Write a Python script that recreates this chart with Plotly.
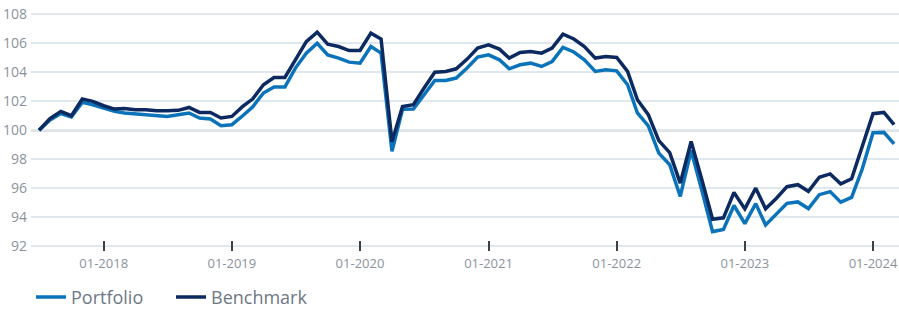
import pandas as pd
import plotly.graph_objects as go

months = pd.date_range("2017-07-01", "2024-03-01", freq="MS")

portfolio = [
    100.0, 100.7, 101.15, 100.92, 101.92, 101.76,
    101.53, 101.3, 101.19, 101.14, 101.07, 101.0, 100.95, 101.07, 101.19, 100.84, 100.77, 100.31,
    100.38, 101.0, 101.6, 102.57, 102.98, 102.98, 104.29, 105.32, 106.0, 105.2, 104.98, 104.7,
    104.63, 105.78, 105.32, 98.54, 101.45, 101.46, 102.45, 103.43, 103.43, 103.6, 104.29, 105.05,
    105.2, 104.86, 104.24, 104.52, 104.63, 104.4, 104.74, 105.72, 105.4, 104.86, 104.06, 104.17,
    104.1, 103.14, 101.19, 100.3, 98.42, 97.62, 95.43, 98.6, 95.8, 93.0, 93.15, 94.8,
    93.55, 94.93, 93.45, 94.25, 94.95, 95.05, 94.59, 95.55, 95.76, 95.03, 95.36, 97.3,
    99.83, 99.85, 99.05,
]

benchmark = [
    100.0, 100.8, 101.3, 101.0, 102.15, 101.99,
    101.69, 101.46, 101.5, 101.41, 101.41, 101.34, 101.34, 101.37, 101.57, 101.23, 101.23, 100.84,
    100.95, 101.64, 102.15, 103.14, 103.64, 103.64, 104.86, 106.12, 106.77, 105.94, 105.78, 105.5,
    105.5, 106.7, 106.29, 99.2, 101.64, 101.76, 102.9, 104.0, 104.06, 104.24, 104.91, 105.67,
    105.9, 105.6, 104.98, 105.37, 105.43, 105.32, 105.67, 106.63, 106.3, 105.78, 104.98, 105.09,
    105.02, 104.06, 102.1, 101.07, 99.28, 98.45, 96.35, 99.23, 96.55, 93.85, 93.95, 95.7,
    94.57, 96.0, 94.57, 95.3, 96.1, 96.24, 95.78, 96.75, 96.98, 96.3, 96.65, 98.88,
    101.14, 101.23, 100.38,
]

y_ticks = [92, 94, 96, 98, 100, 102, 104, 106, 108]
x_ticks = ["2018-01-01", "2019-01-01", "2020-01-01", "2021-01-01",
           "2022-01-01", "2023-01-01", "2024-01-01"]
x_tick_labels = ["01-2018", "01-2019", "01-2020", "01-2021", "01-2022", "01-2023", "01-2024"]

PORT_COLOR = "#0b73ba"
BENCH_COLOR = "#0c2a60"
FONT = "Open Sans"

fig = go.Figure()
fig.add_trace(go.Scatter(x=months, y=portfolio, name="Portfolio", mode="lines",
                         line=dict(color=PORT_COLOR, width=3.5)))
fig.add_trace(go.Scatter(x=months, y=benchmark, name="Benchmark", mode="lines",
                         line=dict(color=BENCH_COLOR, width=3.5)))

fig.add_hline(y=100, line=dict(color="#7b838d", width=2), layer="below")

fig.update_layout(
    width=899, height=309,
    margin=dict(l=31, r=0, t=10, b=58, autoexpand=False),
    paper_bgcolor="white", plot_bgcolor="white",
    font=dict(family=FONT, color="#8a939d"),
    showlegend=True,
    legend=dict(orientation="h", x=0.0, xanchor="left", y=-0.115, yanchor="top",
                font=dict(size=18, color="#6d7885", family=FONT),
                itemwidth=30, tracegroupgap=0, entrywidth=95),
    xaxis=dict(
        type="date",
        range=["2017-06-08", "2024-03-15"],
        tickvals=x_ticks, ticktext=x_tick_labels,
        ticks="inside", ticklen=10, tickwidth=2, tickcolor="#3a4148",
        showgrid=False, zeroline=False, showline=False,
        tickfont=dict(size=13, color="#8a939d", family=FONT),
        ticklabelstandoff=3, automargin=False,
    ),
    yaxis=dict(
        range=[91.66, 108.3],
        tickvals=y_ticks,
        showgrid=True, gridcolor="#e0e8ef", gridwidth=2,
        zeroline=False, showline=False, ticks="",
        tickfont=dict(size=14, color="#8a939d", family=FONT),
        ticklabelstandoff=3, automargin=False,
    ),
)

fig.write_html("out.html", config={"displayModeBar": False},
               post_script="document.body.style.margin='0';")
